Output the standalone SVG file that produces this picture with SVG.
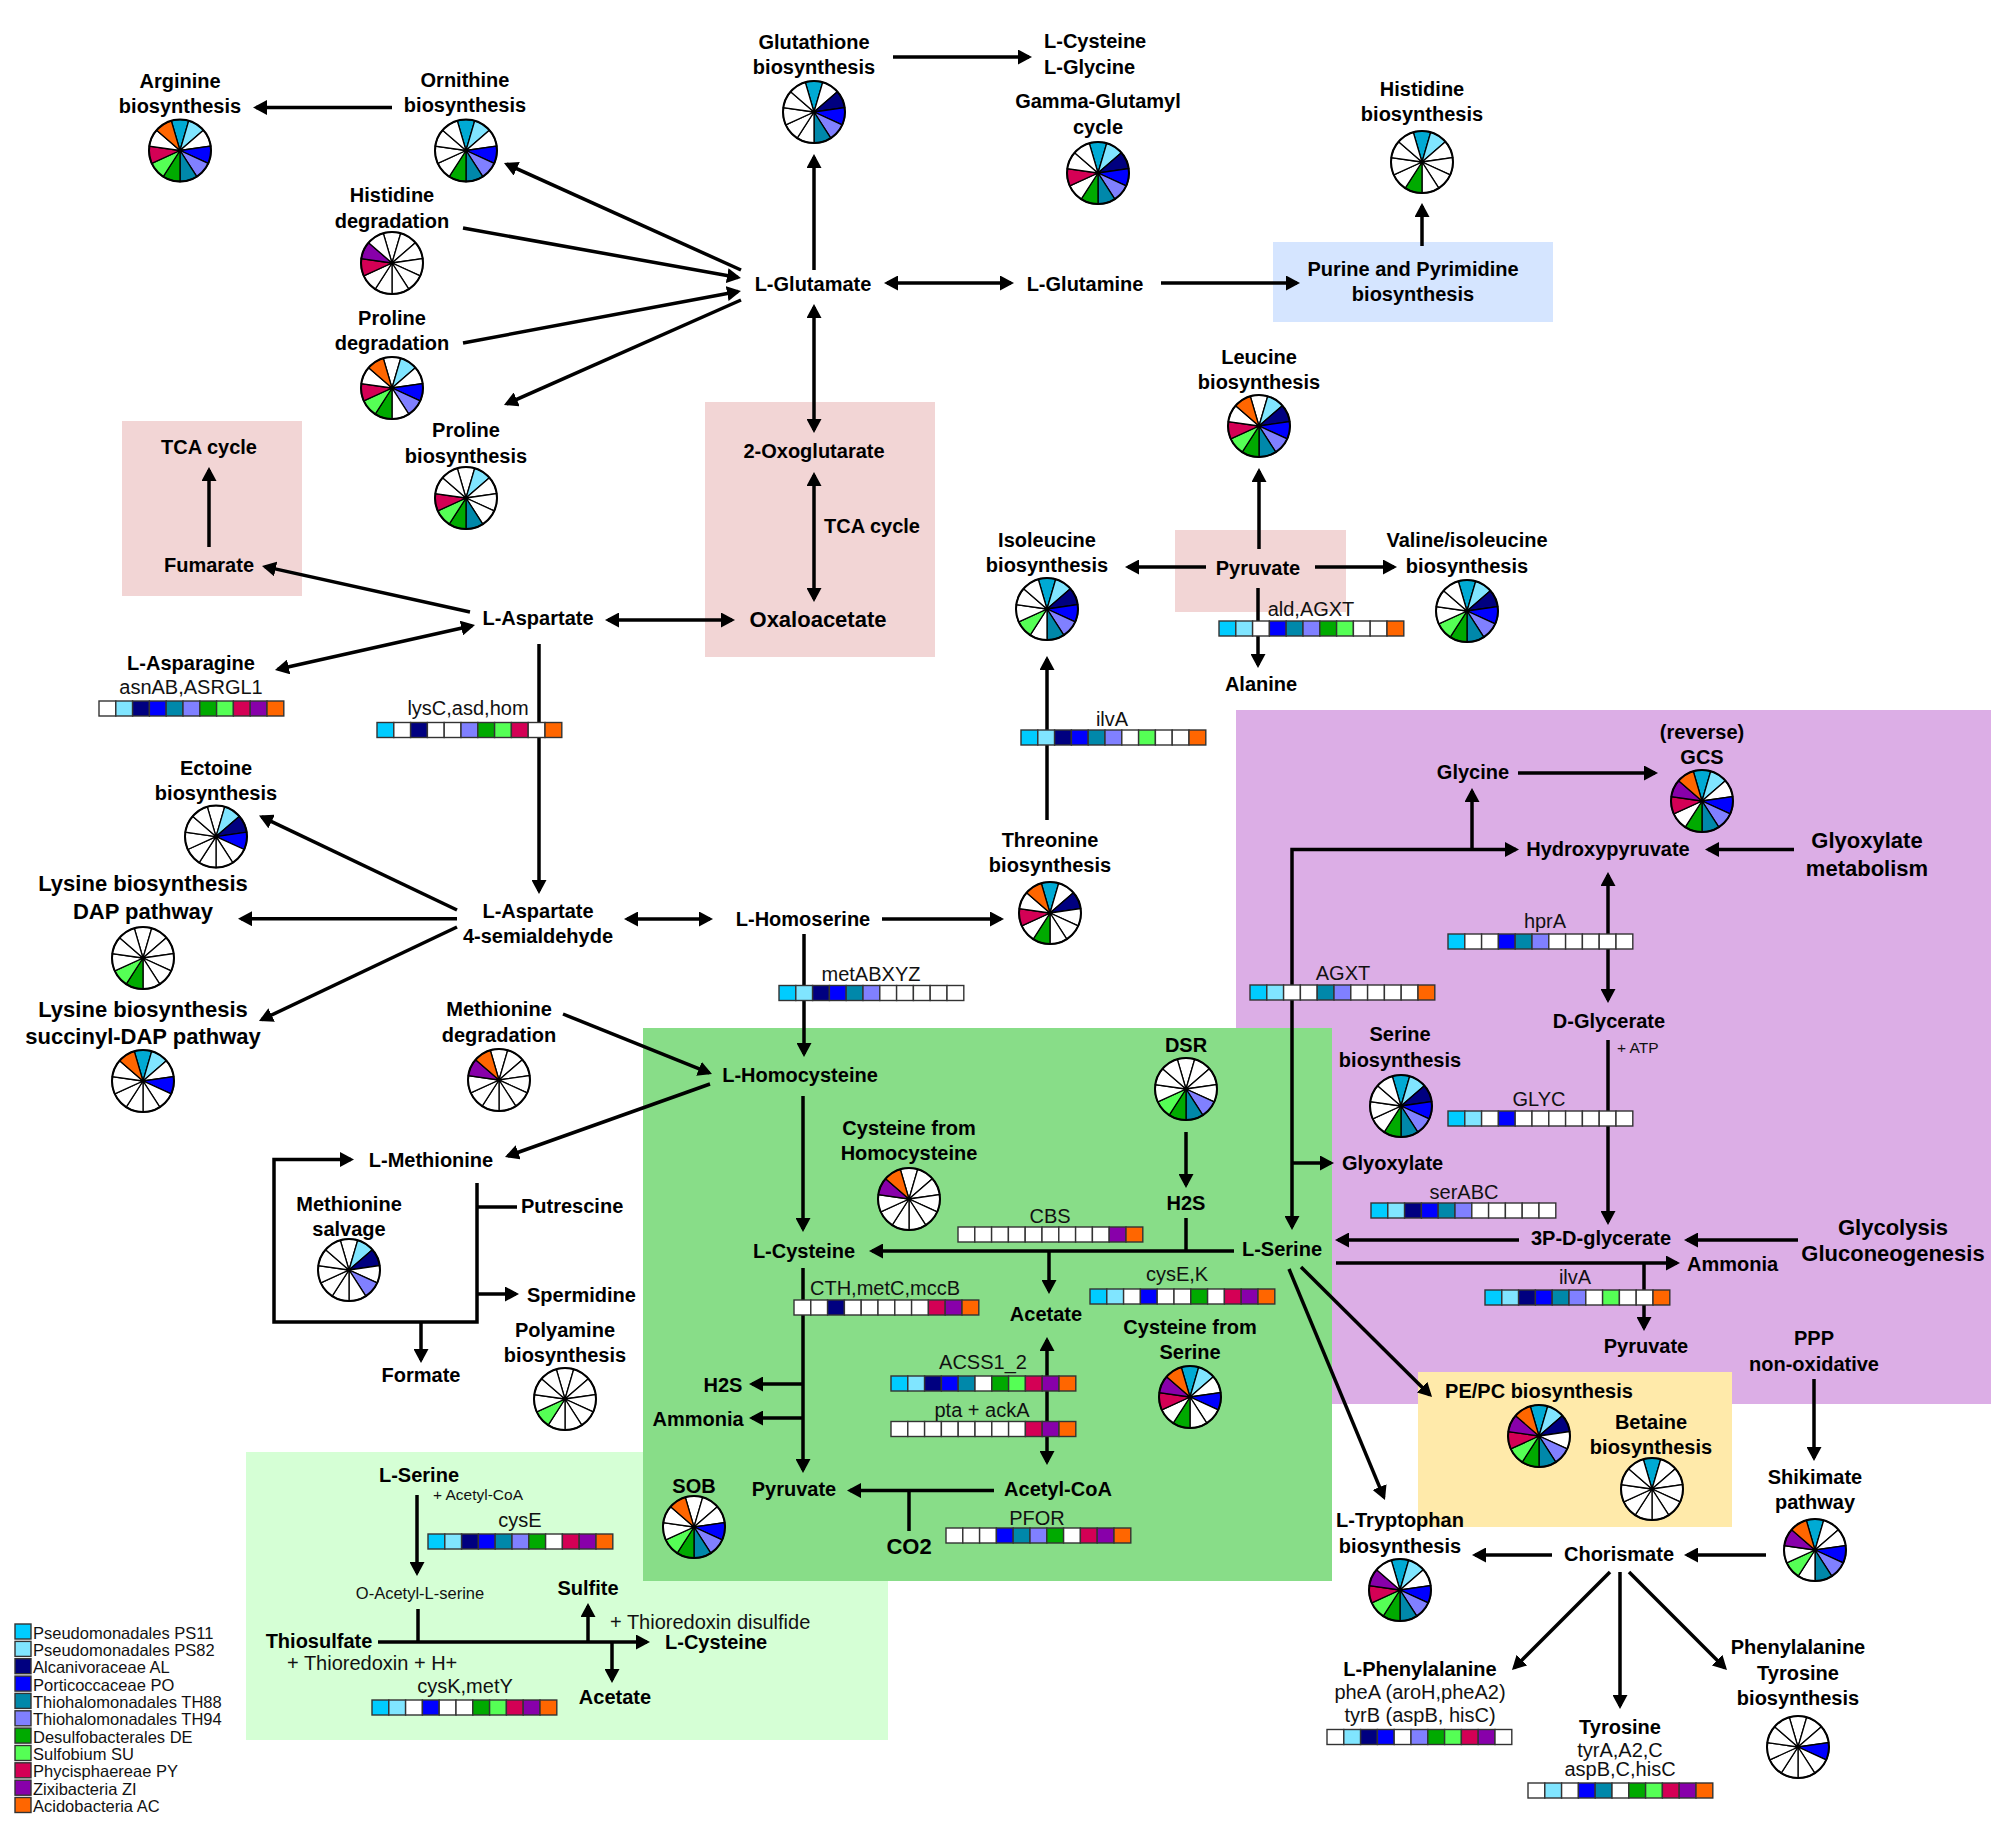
<svg xmlns="http://www.w3.org/2000/svg" xmlns:xlink="http://www.w3.org/1999/xlink" width="2008" height="1839" viewBox="0 0 2008 1839">
<style>
.t{font-family:"Liberation Sans",Arial,sans-serif;font-weight:bold;font-size:20px;text-anchor:middle;fill:#000}
.tl{font-family:"Liberation Sans",Arial,sans-serif;font-weight:bold;font-size:22px;text-anchor:middle;fill:#000}
.ts{font-family:"Liberation Sans",Arial,sans-serif;font-weight:bold;font-size:20px;text-anchor:start;fill:#000}
.g{font-family:"Liberation Sans",Arial,sans-serif;font-size:20px;text-anchor:middle;fill:#111}
.gs{font-family:"Liberation Sans",Arial,sans-serif;font-size:20px;text-anchor:start;fill:#111}
.sm{font-family:"Liberation Sans",Arial,sans-serif;font-size:15.5px;text-anchor:start;fill:#111}
.oa{font-family:"Liberation Sans",Arial,sans-serif;font-size:16.5px;text-anchor:middle;fill:#111}
.lg{font-family:"Liberation Sans",Arial,sans-serif;font-size:16.5px;fill:#111}
.cn path{fill:none;stroke:#000;stroke-width:3.5}
.a{marker-end:url(#ah)}
.d{marker-start:url(#ah);marker-end:url(#ah)}
.pie use{stroke:#000;stroke-width:1.3}
.pie circle{fill:none;stroke:#000;stroke-width:2}
.k0{fill:#00AAD4}.k1{fill:#80E5FF}.k2{fill:#000080}.k3{fill:#0000FF}.k4{fill:#8080FF}.k5{fill:#0088AA}.k6{fill:#00AA00}.k7{fill:#55FF55}.k8{fill:#D40055}.k9{fill:#8800AA}.k10{fill:#FF6600}.kw{fill:#fff}
.st rect{stroke:#333;stroke-width:1.4}
.q1{fill:#00CCFF}.q2{fill:#80E5FF}.q3{fill:#000080}.q4{fill:#0000FF}.q5{fill:#0088AA}.q6{fill:#8080FF}.q7{fill:#00AA00}.q8{fill:#55FF55}.q9{fill:#D40055}.q10{fill:#8800AA}.q11{fill:#FF6600}.qw{fill:#fff}
</style>
<defs>
<marker id="ah" viewBox="0 0 14 15" refX="11" refY="7.5" markerWidth="14" markerHeight="15" markerUnits="userSpaceOnUse" orient="auto-start-reverse"><path d="M0,0L14,7.5L0,15Z" fill="#000"/></marker>
<path id="w0" d="M0,0L-8.7,-29.7A31,31 0 0 1 8.7,-29.7Z"/>
<path id="w1" d="M0,0L8.7,-29.7A31,31 0 0 1 23.4,-20.3Z"/>
<path id="w2" d="M0,0L23.4,-20.3A31,31 0 0 1 30.7,-4.4Z"/>
<path id="w3" d="M0,0L30.7,-4.4A31,31 0 0 1 28.2,12.9Z"/>
<path id="w4" d="M0,0L28.2,12.9A31,31 0 0 1 16.8,26.1Z"/>
<path id="w5" d="M0,0L16.8,26.1A31,31 0 0 1 0,31Z"/>
<path id="w6" d="M0,0L0,31A31,31 0 0 1 -16.8,26.1Z"/>
<path id="w7" d="M0,0L-16.8,26.1A31,31 0 0 1 -28.2,12.9Z"/>
<path id="w8" d="M0,0L-28.2,12.9A31,31 0 0 1 -30.7,-4.4Z"/>
<path id="w9" d="M0,0L-30.7,-4.4A31,31 0 0 1 -23.4,-20.3Z"/>
<path id="w10" d="M0,0L-23.4,-20.3A31,31 0 0 1 -8.7,-29.7Z"/>
</defs>
<rect width="2008" height="1839" fill="#fff"/>
<g id="regions">
<rect x="122" y="421" width="180" height="175" fill="#F2D5D5"/>
<rect x="705" y="402" width="230" height="255" fill="#F2D5D5"/>
<rect x="1175" y="530" width="171" height="82" fill="#F2D5D5"/>
<rect x="1273" y="242" width="280" height="80" fill="#D5E5FF"/>
<rect x="1236" y="710" width="755" height="694" fill="#DCAEE6"/>
<rect x="1418" y="1372" width="314" height="155" fill="#FFEAAA"/>
<rect x="246" y="1452" width="642" height="288" fill="#D5FFD5"/>
<rect x="643" y="1028" width="689" height="553" fill="#88DD88"/>
</g>
<g id="connectors" class="cn">
<path class="a" d="M392,107.5H256"/>
<path class="a" d="M741,270L506.7,164.2"/>
<path class="a" d="M463,228L738,277.5"/>
<path class="a" d="M463,343L738,291.5"/>
<path class="a" d="M741,300L506.7,403.8"/>
<path class="a" d="M814,270V157"/>
<path class="a" d="M893,57H1029"/>
<path class="d" d="M814,307V430"/>
<path class="d" d="M814,475V599"/>
<path class="d" d="M887,283H1011"/>
<path class="a" d="M1161,283H1297"/>
<path class="a" d="M1422,246V206"/>
<path class="a" d="M209,547V470"/>
<path class="a" d="M470,612L264.9,566.6"/>
<path class="d" d="M472.1,625.7L277.9,669.3"/>
<path class="d" d="M608,620H732"/>
<path class="a" d="M539,644V891"/>
<path class="a" d="M457,910L261.7,816.8"/>
<path class="a" d="M457,918.7H241"/>
<path class="a" d="M457,927L261.7,1019.7"/>
<path class="d" d="M627,919H710"/>
<path class="a" d="M882,919H1001"/>
<path class="a" d="M1047,820V659"/>
<path class="a" d="M1259,549V471"/>
<path class="a" d="M1206,567H1128"/>
<path class="a" d="M1315,567H1394"/>
<path class="a" d="M1258,588V665"/>
<path class="a" d="M804,934V1054"/>
<path class="a" d="M563,1014L709.2,1072.9"/>
<path class="a" d="M710,1084L507.8,1156"/>
<path class="a" d="M803,1096V1229"/>
<path class="a" d="M477,1183V1322H274V1159.5H351"/>
<path d="M477,1207H517"/>
<path class="a" d="M477,1294H516"/>
<path class="a" d="M421,1322V1360"/>
<path class="a" d="M1186,1132V1185"/>
<path class="a" d="M1234,1251H872"/>
<path d="M1186,1218V1251"/>
<path class="a" d="M1049,1251V1291"/>
<path class="a" d="M803,1268V1470"/>
<path class="a" d="M803,1384H752"/>
<path class="a" d="M803,1418H752"/>
<path class="d" d="M1047,1340V1462"/>
<path class="a" d="M994,1490.6H850"/>
<path d="M909,1490.6V1531"/>
<path class="d" d="M1292,1227V849.5H1516"/>
<path class="a" d="M1472,849.5V791"/>
<path class="a" d="M1292,1163H1331"/>
<path class="a" d="M1518,773H1655"/>
<path class="a" d="M1794,849.5H1708"/>
<path class="d" d="M1608,875V1000"/>
<path class="a" d="M1608,1040V1222"/>
<path class="a" d="M1519,1240H1338"/>
<path class="a" d="M1798,1240H1687"/>
<path class="a" d="M1336,1263H1677"/>
<path class="a" d="M1644,1263V1328"/>
<path class="a" d="M1301,1267L1429.9,1394.9"/>
<path class="a" d="M1289,1269L1383.8,1497.2"/>
<path class="a" d="M1814,1379V1458"/>
<path class="a" d="M1766,1555H1687"/>
<path class="a" d="M1552,1555H1475"/>
<path class="a" d="M1610,1572L1514.1,1667.9"/>
<path class="a" d="M1620,1572V1706"/>
<path class="a" d="M1629,1572L1724.9,1667.9"/>
<path class="a" d="M417,1495V1573"/>
<path d="M418,1609V1642"/>
<path class="a" d="M378,1642H647"/>
<path class="a" d="M588,1642V1606"/>
<path class="a" d="M612,1642V1680"/>
</g>
<g id="n-arginine"><text class="t" x="180" y="88">Arginine</text><text class="t" x="180" y="113">biosynthesis</text>
<g class="pie" transform="translate(180,150.5)"><use href="#w0" class="k0"/><use href="#w1" class="k1"/><use href="#w2" class="kw"/><use href="#w3" class="k3"/><use href="#w4" class="k4"/><use href="#w5" class="k5"/><use href="#w6" class="k6"/><use href="#w7" class="k7"/><use href="#w8" class="k8"/><use href="#w9" class="kw"/><use href="#w10" class="k10"/><circle r="31"/></g></g>
<g id="n-ornithine"><text class="t" x="465" y="87">Ornithine</text><text class="t" x="465" y="112">biosynthesis</text>
<g class="pie" transform="translate(466,150.5)"><use href="#w0" class="k0"/><use href="#w1" class="k1"/><use href="#w2" class="kw"/><use href="#w3" class="k3"/><use href="#w4" class="k4"/><use href="#w5" class="k5"/><use href="#w6" class="k6"/><use href="#w7" class="kw"/><use href="#w8" class="kw"/><use href="#w9" class="kw"/><use href="#w10" class="kw"/><circle r="31"/></g></g>
<g id="n-histidine-degradation"><text class="t" x="392" y="202">Histidine</text><text class="t" x="392" y="227.5">degradation</text>
<g class="pie" transform="translate(392,263)"><use href="#w0" class="kw"/><use href="#w1" class="kw"/><use href="#w2" class="kw"/><use href="#w3" class="kw"/><use href="#w4" class="kw"/><use href="#w5" class="kw"/><use href="#w6" class="kw"/><use href="#w7" class="kw"/><use href="#w8" class="k8"/><use href="#w9" class="k9"/><use href="#w10" class="kw"/><circle r="31"/></g></g>
<g id="n-proline-degradation"><text class="t" x="392" y="324.5">Proline</text><text class="t" x="392" y="350">degradation</text>
<g class="pie" transform="translate(392,388)"><use href="#w0" class="kw"/><use href="#w1" class="k1"/><use href="#w2" class="kw"/><use href="#w3" class="k3"/><use href="#w4" class="k4"/><use href="#w5" class="kw"/><use href="#w6" class="k6"/><use href="#w7" class="k7"/><use href="#w8" class="k8"/><use href="#w9" class="kw"/><use href="#w10" class="k10"/><circle r="31"/></g></g>
<g id="n-proline-biosynthesis"><text class="t" x="466" y="437">Proline</text><text class="t" x="466" y="462.5">biosynthesis</text>
<g class="pie" transform="translate(466,498)"><use href="#w0" class="kw"/><use href="#w1" class="k1"/><use href="#w2" class="kw"/><use href="#w3" class="kw"/><use href="#w4" class="kw"/><use href="#w5" class="k5"/><use href="#w6" class="k6"/><use href="#w7" class="k7"/><use href="#w8" class="k8"/><use href="#w9" class="kw"/><use href="#w10" class="kw"/><circle r="31"/></g></g>
<g id="n-glutathione"><text class="t" x="814" y="49">Glutathione</text><text class="t" x="814" y="74">biosynthesis</text>
<g class="pie" transform="translate(814,112)"><use href="#w0" class="k0"/><use href="#w1" class="kw"/><use href="#w2" class="k2"/><use href="#w3" class="k3"/><use href="#w4" class="k4"/><use href="#w5" class="k5"/><use href="#w6" class="kw"/><use href="#w7" class="kw"/><use href="#w8" class="kw"/><use href="#w9" class="kw"/><use href="#w10" class="kw"/><circle r="31"/></g></g>
<g id="n-cys-gly"><text class="ts" x="1044" y="47.7">L-Cysteine</text><text class="ts" x="1044" y="73.5">L-Glycine</text></g>
<g id="n-gamma-glutamyl"><text class="t" x="1098" y="108">Gamma-Glutamyl</text><text class="t" x="1098" y="134">cycle</text>
<g class="pie" transform="translate(1098,173)"><use href="#w0" class="k0"/><use href="#w1" class="k1"/><use href="#w2" class="k2"/><use href="#w3" class="k3"/><use href="#w4" class="k4"/><use href="#w5" class="k5"/><use href="#w6" class="k6"/><use href="#w7" class="kw"/><use href="#w8" class="k8"/><use href="#w9" class="kw"/><use href="#w10" class="kw"/><circle r="31"/></g></g>
<g id="n-histidine-biosynthesis"><text class="t" x="1422" y="96">Histidine</text><text class="t" x="1422" y="121">biosynthesis</text>
<g class="pie" transform="translate(1422,162)"><use href="#w0" class="k0"/><use href="#w1" class="k1"/><use href="#w2" class="kw"/><use href="#w3" class="kw"/><use href="#w4" class="kw"/><use href="#w5" class="kw"/><use href="#w6" class="k6"/><use href="#w7" class="kw"/><use href="#w8" class="kw"/><use href="#w9" class="kw"/><use href="#w10" class="kw"/><circle r="31"/></g></g>
<g id="n-glutamate"><text class="t" x="813" y="291">L-Glutamate</text></g>
<g id="n-glutamine"><text class="t" x="1085" y="291">L-Glutamine</text></g>
<g id="n-purine"><text class="t" x="1413" y="276">Purine and Pyrimidine</text><text class="t" x="1413" y="301">biosynthesis</text></g>
<g id="n-oxoglutarate"><text class="t" x="814" y="458">2-Oxoglutarate</text><text class="ts" x="824" y="532.5">TCA cycle</text></g>
<g id="n-oxaloacetate"><text class="tl" x="818" y="627">Oxaloacetate</text></g>
<g id="n-tca"><text class="t" x="209" y="453.5">TCA cycle</text></g>
<g id="n-fumarate"><text class="t" x="209" y="571.5">Fumarate</text></g>
<g id="n-aspartate"><text class="t" x="538" y="625">L-Aspartate</text></g>
<g id="n-leucine"><text class="t" x="1259" y="364">Leucine</text><text class="t" x="1259" y="389">biosynthesis</text>
<g class="pie" transform="translate(1259,426)"><use href="#w0" class="kw"/><use href="#w1" class="k1"/><use href="#w2" class="k2"/><use href="#w3" class="k3"/><use href="#w4" class="k4"/><use href="#w5" class="k5"/><use href="#w6" class="k6"/><use href="#w7" class="k7"/><use href="#w8" class="k8"/><use href="#w9" class="kw"/><use href="#w10" class="k10"/><circle r="31"/></g></g>
<g id="n-isoleucine"><text class="t" x="1047" y="546.5">Isoleucine</text><text class="t" x="1047" y="572">biosynthesis</text>
<g class="pie" transform="translate(1047,609)"><use href="#w0" class="k0"/><use href="#w1" class="k1"/><use href="#w2" class="k2"/><use href="#w3" class="k3"/><use href="#w4" class="k4"/><use href="#w5" class="k5"/><use href="#w6" class="kw"/><use href="#w7" class="k7"/><use href="#w8" class="kw"/><use href="#w9" class="kw"/><use href="#w10" class="kw"/><circle r="31"/></g></g>
<g id="n-pyruvate"><text class="t" x="1258" y="575">Pyruvate</text></g>
<g id="n-valine"><text class="t" x="1467" y="547">Valine/isoleucine</text><text class="t" x="1467" y="573">biosynthesis</text>
<g class="pie" transform="translate(1467,611)"><use href="#w0" class="k0"/><use href="#w1" class="k1"/><use href="#w2" class="k2"/><use href="#w3" class="k3"/><use href="#w4" class="k4"/><use href="#w5" class="k5"/><use href="#w6" class="k6"/><use href="#w7" class="k7"/><use href="#w8" class="kw"/><use href="#w9" class="kw"/><use href="#w10" class="kw"/><circle r="31"/></g></g>
<g id="n-alanine"><text class="t" x="1261" y="691">Alanine</text></g>
<g id="n-asparagine"><text class="t" x="191" y="670">L-Asparagine</text><text class="g" x="191" y="694">asnAB,ASRGL1</text></g>
<g id="n-ectoine"><text class="t" x="216" y="774.5">Ectoine</text><text class="t" x="216" y="800">biosynthesis</text>
<g class="pie" transform="translate(216,836.6)"><use href="#w0" class="kw"/><use href="#w1" class="k1"/><use href="#w2" class="k2"/><use href="#w3" class="k3"/><use href="#w4" class="kw"/><use href="#w5" class="kw"/><use href="#w6" class="kw"/><use href="#w7" class="kw"/><use href="#w8" class="kw"/><use href="#w9" class="kw"/><use href="#w10" class="kw"/><circle r="31"/></g></g>
<g id="n-lysine-dap"><text class="tl" x="143" y="891">Lysine biosynthesis</text><text class="tl" x="143" y="919">DAP pathway</text>
<g class="pie" transform="translate(143,958)"><use href="#w0" class="kw"/><use href="#w1" class="kw"/><use href="#w2" class="kw"/><use href="#w3" class="kw"/><use href="#w4" class="kw"/><use href="#w5" class="kw"/><use href="#w6" class="k6"/><use href="#w7" class="k7"/><use href="#w8" class="kw"/><use href="#w9" class="kw"/><use href="#w10" class="kw"/><circle r="31"/></g></g>
<g id="n-lysine-succinyl"><text class="tl" x="143" y="1016.5">Lysine biosynthesis</text><text class="tl" x="143" y="1044">succinyl-DAP pathway</text>
<g class="pie" transform="translate(143,1081)"><use href="#w0" class="k0"/><use href="#w1" class="k1"/><use href="#w2" class="kw"/><use href="#w3" class="k3"/><use href="#w4" class="kw"/><use href="#w5" class="kw"/><use href="#w6" class="kw"/><use href="#w7" class="kw"/><use href="#w8" class="kw"/><use href="#w9" class="kw"/><use href="#w10" class="k10"/><circle r="31"/></g></g>
<g id="n-semialdehyde"><text class="t" x="538" y="918">L-Aspartate</text><text class="t" x="538" y="943">4-semialdehyde</text></g>
<g id="n-homoserine"><text class="t" x="803" y="926">L-Homoserine</text></g>
<g id="n-threonine"><text class="t" x="1050" y="847">Threonine</text><text class="t" x="1050" y="872">biosynthesis</text>
<g class="pie" transform="translate(1050,913)"><use href="#w0" class="k0"/><use href="#w1" class="kw"/><use href="#w2" class="k2"/><use href="#w3" class="kw"/><use href="#w4" class="kw"/><use href="#w5" class="kw"/><use href="#w6" class="k6"/><use href="#w7" class="kw"/><use href="#w8" class="k8"/><use href="#w9" class="kw"/><use href="#w10" class="k10"/><circle r="31"/></g></g>
<g id="n-gcs"><text class="t" x="1702" y="739">(reverse)</text><text class="t" x="1702" y="763.5">GCS</text>
<g class="pie" transform="translate(1702,801)"><use href="#w0" class="k0"/><use href="#w1" class="k1"/><use href="#w2" class="kw"/><use href="#w3" class="k3"/><use href="#w4" class="k4"/><use href="#w5" class="k5"/><use href="#w6" class="k6"/><use href="#w7" class="kw"/><use href="#w8" class="k8"/><use href="#w9" class="k9"/><use href="#w10" class="k10"/><circle r="31"/></g></g>
<g id="n-glycine"><text class="t" x="1473" y="779">Glycine</text></g>
<g id="n-hydroxypyruvate"><text class="t" x="1608" y="856">Hydroxypyruvate</text></g>
<g id="n-glyoxylate-metabolism"><text class="tl" x="1867" y="847.5">Glyoxylate</text><text class="tl" x="1867" y="876">metabolism</text></g>
<g id="n-d-glycerate"><text class="t" x="1609" y="1028">D-Glycerate</text><text class="sm" x="1617" y="1053">+ ATP</text></g>
<g id="n-methionine-degradation"><text class="t" x="499" y="1016">Methionine</text><text class="t" x="499" y="1042">degradation</text>
<g class="pie" transform="translate(499,1080)"><use href="#w0" class="kw"/><use href="#w1" class="kw"/><use href="#w2" class="kw"/><use href="#w3" class="kw"/><use href="#w4" class="kw"/><use href="#w5" class="kw"/><use href="#w6" class="kw"/><use href="#w7" class="kw"/><use href="#w8" class="kw"/><use href="#w9" class="k9"/><use href="#w10" class="k10"/><circle r="31"/></g></g>
<g id="n-homocysteine"><text class="t" x="800" y="1082">L-Homocysteine</text></g>
<g id="n-cys-from-hcy"><text class="t" x="909" y="1135">Cysteine from</text><text class="t" x="909" y="1160">Homocysteine</text>
<g class="pie" transform="translate(909,1199)"><use href="#w0" class="kw"/><use href="#w1" class="kw"/><use href="#w2" class="kw"/><use href="#w3" class="kw"/><use href="#w4" class="kw"/><use href="#w5" class="kw"/><use href="#w6" class="kw"/><use href="#w7" class="kw"/><use href="#w8" class="kw"/><use href="#w9" class="k9"/><use href="#w10" class="k10"/><circle r="31"/></g></g>
<g id="n-dsr"><text class="t" x="1186" y="1052">DSR</text>
<g class="pie" transform="translate(1186,1089)"><use href="#w0" class="kw"/><use href="#w1" class="kw"/><use href="#w2" class="kw"/><use href="#w3" class="kw"/><use href="#w4" class="k4"/><use href="#w5" class="k5"/><use href="#w6" class="k6"/><use href="#w7" class="k7"/><use href="#w8" class="kw"/><use href="#w9" class="kw"/><use href="#w10" class="kw"/><circle r="31"/></g></g>
<g id="n-serine-biosynthesis"><text class="t" x="1400" y="1041">Serine</text><text class="t" x="1400" y="1066.5">biosynthesis</text>
<g class="pie" transform="translate(1401,1106)"><use href="#w0" class="k0"/><use href="#w1" class="k1"/><use href="#w2" class="k2"/><use href="#w3" class="k3"/><use href="#w4" class="k4"/><use href="#w5" class="k5"/><use href="#w6" class="k6"/><use href="#w7" class="kw"/><use href="#w8" class="kw"/><use href="#w9" class="kw"/><use href="#w10" class="kw"/><circle r="31"/></g></g>
<g id="n-h2s-dsr"><text class="t" x="1186" y="1210">H2S</text></g>
<g id="n-glyoxylate"><text class="ts" x="1342" y="1170">Glyoxylate</text></g>
<g id="n-methionine"><text class="t" x="431" y="1167">L-Methionine</text></g>
<g id="n-methionine-salvage"><text class="t" x="349" y="1211">Methionine</text><text class="t" x="349" y="1236">salvage</text>
<g class="pie" transform="translate(349,1270)"><use href="#w0" class="kw"/><use href="#w1" class="k1"/><use href="#w2" class="k2"/><use href="#w3" class="kw"/><use href="#w4" class="k4"/><use href="#w5" class="kw"/><use href="#w6" class="kw"/><use href="#w7" class="kw"/><use href="#w8" class="kw"/><use href="#w9" class="kw"/><use href="#w10" class="kw"/><circle r="31"/></g></g>
<g id="n-putrescine"><text class="ts" x="521" y="1213">Putrescine</text></g>
<g id="n-spermidine"><text class="ts" x="527" y="1301.5">Spermidine</text></g>
<g id="n-formate"><text class="t" x="421" y="1382">Formate</text></g>
<g id="n-polyamine"><text class="t" x="565" y="1337">Polyamine</text><text class="t" x="565" y="1362">biosynthesis</text>
<g class="pie" transform="translate(565,1399)"><use href="#w0" class="kw"/><use href="#w1" class="kw"/><use href="#w2" class="kw"/><use href="#w3" class="kw"/><use href="#w4" class="kw"/><use href="#w5" class="kw"/><use href="#w6" class="kw"/><use href="#w7" class="k7"/><use href="#w8" class="kw"/><use href="#w9" class="kw"/><use href="#w10" class="kw"/><circle r="31"/></g></g>
<g id="n-cysteine"><text class="t" x="804" y="1258">L-Cysteine</text></g>
<g id="n-acetate"><text class="t" x="1046" y="1320.6">Acetate</text></g>
<g id="n-cys-from-ser"><text class="t" x="1190" y="1333.5">Cysteine from</text><text class="t" x="1190" y="1359">Serine</text>
<g class="pie" transform="translate(1190,1397)"><use href="#w0" class="k0"/><use href="#w1" class="k1"/><use href="#w2" class="kw"/><use href="#w3" class="k3"/><use href="#w4" class="kw"/><use href="#w5" class="kw"/><use href="#w6" class="k6"/><use href="#w7" class="kw"/><use href="#w8" class="k8"/><use href="#w9" class="k9"/><use href="#w10" class="k10"/><circle r="31"/></g></g>
<g id="n-serine"><text class="t" x="1282" y="1256">L-Serine</text></g>
<g id="n-3pdg"><text class="t" x="1601" y="1245">3P-D-glycerate</text></g>
<g id="n-glycolysis"><text class="tl" x="1893" y="1235">Glycolysis</text><text class="tl" x="1893" y="1261">Gluconeogenesis</text></g>
<g id="n-ammonia-ser"><text class="ts" x="1687" y="1271">Ammonia</text></g>
<g id="n-pyruvate-ser"><text class="t" x="1646" y="1353">Pyruvate</text></g>
<g id="n-ppp"><text class="t" x="1814" y="1345">PPP</text><text class="t" x="1814" y="1371">non-oxidative</text></g>
<g id="n-h2s"><text class="t" x="723" y="1392">H2S</text></g>
<g id="n-ammonia"><text class="t" x="698" y="1426">Ammonia</text></g>
<g id="n-sob"><text class="t" x="694" y="1493">SOB</text>
<g class="pie" transform="translate(694,1527)"><use href="#w0" class="kw"/><use href="#w1" class="kw"/><use href="#w2" class="kw"/><use href="#w3" class="k3"/><use href="#w4" class="k4"/><use href="#w5" class="k5"/><use href="#w6" class="k6"/><use href="#w7" class="k7"/><use href="#w8" class="kw"/><use href="#w9" class="kw"/><use href="#w10" class="k10"/><circle r="31"/></g></g>
<g id="n-pyruvate-cys"><text class="t" x="794" y="1496">Pyruvate</text></g>
<g id="n-acetyl-coa"><text class="t" x="1058" y="1496">Acetyl-CoA</text></g>
<g id="n-co2"><text class="tl" x="909" y="1554">CO2</text></g>
<g id="n-pepc"><text class="t" x="1539" y="1398">PE/PC biosynthesis</text>
<g class="pie" transform="translate(1539,1436)"><use href="#w0" class="k0"/><use href="#w1" class="k1"/><use href="#w2" class="k2"/><use href="#w3" class="kw"/><use href="#w4" class="k4"/><use href="#w5" class="k5"/><use href="#w6" class="k6"/><use href="#w7" class="k7"/><use href="#w8" class="k8"/><use href="#w9" class="k9"/><use href="#w10" class="k10"/><circle r="31"/></g></g>
<g id="n-betaine"><text class="t" x="1651" y="1428.5">Betaine</text><text class="t" x="1651" y="1454">biosynthesis</text>
<g class="pie" transform="translate(1652,1489)"><use href="#w0" class="k0"/><use href="#w1" class="kw"/><use href="#w2" class="kw"/><use href="#w3" class="kw"/><use href="#w4" class="kw"/><use href="#w5" class="kw"/><use href="#w6" class="kw"/><use href="#w7" class="kw"/><use href="#w8" class="kw"/><use href="#w9" class="kw"/><use href="#w10" class="kw"/><circle r="31"/></g></g>
<g id="n-shikimate"><text class="t" x="1815" y="1484">Shikimate</text><text class="t" x="1815" y="1509">pathway</text>
<g class="pie" transform="translate(1815,1550)"><use href="#w0" class="k0"/><use href="#w1" class="kw"/><use href="#w2" class="kw"/><use href="#w3" class="k3"/><use href="#w4" class="k4"/><use href="#w5" class="k5"/><use href="#w6" class="kw"/><use href="#w7" class="k7"/><use href="#w8" class="kw"/><use href="#w9" class="k9"/><use href="#w10" class="k10"/><circle r="31"/></g></g>
<g id="n-tryptophan"><text class="t" x="1400" y="1527">L-Tryptophan</text><text class="t" x="1400" y="1552.5">biosynthesis</text>
<g class="pie" transform="translate(1400,1590)"><use href="#w0" class="k0"/><use href="#w1" class="k1"/><use href="#w2" class="kw"/><use href="#w3" class="k3"/><use href="#w4" class="k4"/><use href="#w5" class="k5"/><use href="#w6" class="k6"/><use href="#w7" class="k7"/><use href="#w8" class="k8"/><use href="#w9" class="k9"/><use href="#w10" class="kw"/><circle r="31"/></g></g>
<g id="n-chorismate"><text class="t" x="1619" y="1561">Chorismate</text></g>
<g id="n-phenylalanine"><text class="t" x="1420" y="1675.6">L-Phenylalanine</text><text class="g" x="1420" y="1699">pheA (aroH,pheA2)</text><text class="g" x="1420" y="1722">tyrB (aspB, hisC)</text></g>
<g id="n-tyrosine"><text class="t" x="1620" y="1734">Tyrosine</text><text class="g" x="1620" y="1757">tyrA,A2,C</text><text class="g" x="1620" y="1776">aspB,C,hisC</text></g>
<g id="n-phetyr"><text class="t" x="1798" y="1654">Phenylalanine</text><text class="t" x="1798" y="1679.5">Tyrosine</text><text class="t" x="1798" y="1705">biosynthesis</text>
<g class="pie" transform="translate(1798,1747)"><use href="#w0" class="kw"/><use href="#w1" class="kw"/><use href="#w2" class="kw"/><use href="#w3" class="k3"/><use href="#w4" class="kw"/><use href="#w5" class="kw"/><use href="#w6" class="kw"/><use href="#w7" class="kw"/><use href="#w8" class="kw"/><use href="#w9" class="kw"/><use href="#w10" class="kw"/><circle r="31"/></g></g>
<g id="n-serine-b"><text class="t" x="419" y="1482">L-Serine</text><text class="sm" x="433" y="1500">+ Acetyl-CoA</text></g>
<g id="n-oacetylserine"><text class="oa" x="420" y="1599">O-Acetyl-L-serine</text></g>
<g id="n-thiosulfate"><text class="t" x="319" y="1648">Thiosulfate</text><text class="gs" x="287" y="1670">+ Thioredoxin + H+</text></g>
<g id="n-sulfite"><text class="t" x="588" y="1595">Sulfite</text></g>
<g id="n-cysteine-b"><text class="gs" x="610" y="1629">+ Thioredoxin disulfide</text><text class="ts" x="665" y="1649">L-Cysteine</text></g>
<g id="n-acetate-b"><text class="t" x="615" y="1704">Acetate</text></g>
<g id="gene-labels">
<text class="g" x="468" y="715">lysC,asd,hom</text>
<text class="g" x="871" y="980.5">metABXYZ</text>
<text class="g" x="1112" y="726">ilvA</text>
<text class="g" x="1311" y="616">ald,AGXT</text>
<text class="g" x="1343" y="980">AGXT</text>
<text class="g" x="1545" y="928">hprA</text>
<text class="g" x="1539" y="1106">GLYC</text>
<text class="g" x="1464" y="1199">serABC</text>
<text class="g" x="1050" y="1223">CBS</text>
<text class="g" x="885" y="1294.5">CTH,metC,mccB</text>
<text class="g" x="1177" y="1281">cysE,K</text>
<text class="g" x="1575" y="1284">ilvA</text>
<text class="g" x="983" y="1369">ACSS1_2</text>
<text class="g" x="982" y="1417">pta + ackA</text>
<text class="g" x="1037" y="1525">PFOR</text>
<text class="g" x="520" y="1527">cysE</text>
<text class="g" x="465" y="1693">cysK,metY</text>
</g>
<g id="s-asnAB" class="st" transform="translate(99,701)"><rect x="0" width="16.8" height="15" class="qw"/><rect x="16.8" width="16.8" height="15" class="q2"/><rect x="33.6" width="16.8" height="15" class="q3"/><rect x="50.4" width="16.8" height="15" class="q4"/><rect x="67.2" width="16.8" height="15" class="q5"/><rect x="84" width="16.8" height="15" class="q6"/><rect x="100.8" width="16.8" height="15" class="q7"/><rect x="117.6" width="16.8" height="15" class="q8"/><rect x="134.4" width="16.8" height="15" class="q9"/><rect x="151.2" width="16.8" height="15" class="q10"/><rect x="168" width="16.8" height="15" class="q11"/></g>
<g id="s-lysC" class="st" transform="translate(377,722.5)"><rect x="0" width="16.8" height="15" class="q1"/><rect x="16.8" width="16.8" height="15" class="qw"/><rect x="33.6" width="16.8" height="15" class="q3"/><rect x="50.4" width="16.8" height="15" class="qw"/><rect x="67.2" width="16.8" height="15" class="qw"/><rect x="84" width="16.8" height="15" class="q6"/><rect x="100.8" width="16.8" height="15" class="q7"/><rect x="117.6" width="16.8" height="15" class="q8"/><rect x="134.4" width="16.8" height="15" class="q9"/><rect x="151.2" width="16.8" height="15" class="qw"/><rect x="168" width="16.8" height="15" class="q11"/></g>
<g id="s-metABXYZ" class="st" transform="translate(779,985.5)"><rect x="0" width="16.8" height="15" class="q1"/><rect x="16.8" width="16.8" height="15" class="q2"/><rect x="33.6" width="16.8" height="15" class="q3"/><rect x="50.4" width="16.8" height="15" class="q4"/><rect x="67.2" width="16.8" height="15" class="q5"/><rect x="84" width="16.8" height="15" class="q6"/><rect x="100.8" width="16.8" height="15" class="qw"/><rect x="117.6" width="16.8" height="15" class="qw"/><rect x="134.4" width="16.8" height="15" class="qw"/><rect x="151.2" width="16.8" height="15" class="qw"/><rect x="168" width="16.8" height="15" class="qw"/></g>
<g id="s-ilvA-thr" class="st" transform="translate(1021,730)"><rect x="0" width="16.8" height="15" class="q1"/><rect x="16.8" width="16.8" height="15" class="q2"/><rect x="33.6" width="16.8" height="15" class="q3"/><rect x="50.4" width="16.8" height="15" class="q4"/><rect x="67.2" width="16.8" height="15" class="q5"/><rect x="84" width="16.8" height="15" class="q6"/><rect x="100.8" width="16.8" height="15" class="qw"/><rect x="117.6" width="16.8" height="15" class="q8"/><rect x="134.4" width="16.8" height="15" class="qw"/><rect x="151.2" width="16.8" height="15" class="qw"/><rect x="168" width="16.8" height="15" class="q11"/></g>
<g id="s-aldAGXT" class="st" transform="translate(1219,621)"><rect x="0" width="16.8" height="15" class="q1"/><rect x="16.8" width="16.8" height="15" class="q2"/><rect x="33.6" width="16.8" height="15" class="qw"/><rect x="50.4" width="16.8" height="15" class="q4"/><rect x="67.2" width="16.8" height="15" class="q5"/><rect x="84" width="16.8" height="15" class="q6"/><rect x="100.8" width="16.8" height="15" class="q7"/><rect x="117.6" width="16.8" height="15" class="q8"/><rect x="134.4" width="16.8" height="15" class="qw"/><rect x="151.2" width="16.8" height="15" class="qw"/><rect x="168" width="16.8" height="15" class="q11"/></g>
<g id="s-AGXT" class="st" transform="translate(1250,985)"><rect x="0" width="16.8" height="15" class="q1"/><rect x="16.8" width="16.8" height="15" class="q2"/><rect x="33.6" width="16.8" height="15" class="qw"/><rect x="50.4" width="16.8" height="15" class="qw"/><rect x="67.2" width="16.8" height="15" class="q5"/><rect x="84" width="16.8" height="15" class="q6"/><rect x="100.8" width="16.8" height="15" class="qw"/><rect x="117.6" width="16.8" height="15" class="qw"/><rect x="134.4" width="16.8" height="15" class="qw"/><rect x="151.2" width="16.8" height="15" class="qw"/><rect x="168" width="16.8" height="15" class="q11"/></g>
<g id="s-hprA" class="st" transform="translate(1448,934)"><rect x="0" width="16.8" height="15" class="q1"/><rect x="16.8" width="16.8" height="15" class="qw"/><rect x="33.6" width="16.8" height="15" class="qw"/><rect x="50.4" width="16.8" height="15" class="q4"/><rect x="67.2" width="16.8" height="15" class="q5"/><rect x="84" width="16.8" height="15" class="q6"/><rect x="100.8" width="16.8" height="15" class="qw"/><rect x="117.6" width="16.8" height="15" class="qw"/><rect x="134.4" width="16.8" height="15" class="qw"/><rect x="151.2" width="16.8" height="15" class="qw"/><rect x="168" width="16.8" height="15" class="qw"/></g>
<g id="s-GLYC" class="st" transform="translate(1448,1111)"><rect x="0" width="16.8" height="15" class="q1"/><rect x="16.8" width="16.8" height="15" class="q2"/><rect x="33.6" width="16.8" height="15" class="qw"/><rect x="50.4" width="16.8" height="15" class="q4"/><rect x="67.2" width="16.8" height="15" class="qw"/><rect x="84" width="16.8" height="15" class="qw"/><rect x="100.8" width="16.8" height="15" class="qw"/><rect x="117.6" width="16.8" height="15" class="qw"/><rect x="134.4" width="16.8" height="15" class="qw"/><rect x="151.2" width="16.8" height="15" class="qw"/><rect x="168" width="16.8" height="15" class="qw"/></g>
<g id="s-serABC" class="st" transform="translate(1371,1203)"><rect x="0" width="16.8" height="15" class="q1"/><rect x="16.8" width="16.8" height="15" class="q2"/><rect x="33.6" width="16.8" height="15" class="q3"/><rect x="50.4" width="16.8" height="15" class="q4"/><rect x="67.2" width="16.8" height="15" class="q5"/><rect x="84" width="16.8" height="15" class="q6"/><rect x="100.8" width="16.8" height="15" class="qw"/><rect x="117.6" width="16.8" height="15" class="qw"/><rect x="134.4" width="16.8" height="15" class="qw"/><rect x="151.2" width="16.8" height="15" class="qw"/><rect x="168" width="16.8" height="15" class="qw"/></g>
<g id="s-CBS" class="st" transform="translate(958,1227)"><rect x="0" width="16.8" height="15" class="qw"/><rect x="16.8" width="16.8" height="15" class="qw"/><rect x="33.6" width="16.8" height="15" class="qw"/><rect x="50.4" width="16.8" height="15" class="qw"/><rect x="67.2" width="16.8" height="15" class="qw"/><rect x="84" width="16.8" height="15" class="qw"/><rect x="100.8" width="16.8" height="15" class="qw"/><rect x="117.6" width="16.8" height="15" class="qw"/><rect x="134.4" width="16.8" height="15" class="qw"/><rect x="151.2" width="16.8" height="15" class="q10"/><rect x="168" width="16.8" height="15" class="q11"/></g>
<g id="s-CTH" class="st" transform="translate(794,1300)"><rect x="0" width="16.8" height="15" class="qw"/><rect x="16.8" width="16.8" height="15" class="qw"/><rect x="33.6" width="16.8" height="15" class="q3"/><rect x="50.4" width="16.8" height="15" class="qw"/><rect x="67.2" width="16.8" height="15" class="qw"/><rect x="84" width="16.8" height="15" class="qw"/><rect x="100.8" width="16.8" height="15" class="qw"/><rect x="117.6" width="16.8" height="15" class="qw"/><rect x="134.4" width="16.8" height="15" class="q9"/><rect x="151.2" width="16.8" height="15" class="q10"/><rect x="168" width="16.8" height="15" class="q11"/></g>
<g id="s-cysEK" class="st" transform="translate(1090,1289)"><rect x="0" width="16.8" height="15" class="q1"/><rect x="16.8" width="16.8" height="15" class="q2"/><rect x="33.6" width="16.8" height="15" class="qw"/><rect x="50.4" width="16.8" height="15" class="q4"/><rect x="67.2" width="16.8" height="15" class="qw"/><rect x="84" width="16.8" height="15" class="qw"/><rect x="100.8" width="16.8" height="15" class="q7"/><rect x="117.6" width="16.8" height="15" class="qw"/><rect x="134.4" width="16.8" height="15" class="q9"/><rect x="151.2" width="16.8" height="15" class="q10"/><rect x="168" width="16.8" height="15" class="q11"/></g>
<g id="s-ilvA-ser" class="st" transform="translate(1485,1290)"><rect x="0" width="16.8" height="15" class="q1"/><rect x="16.8" width="16.8" height="15" class="q2"/><rect x="33.6" width="16.8" height="15" class="q3"/><rect x="50.4" width="16.8" height="15" class="q4"/><rect x="67.2" width="16.8" height="15" class="q5"/><rect x="84" width="16.8" height="15" class="q6"/><rect x="100.8" width="16.8" height="15" class="qw"/><rect x="117.6" width="16.8" height="15" class="q8"/><rect x="134.4" width="16.8" height="15" class="qw"/><rect x="151.2" width="16.8" height="15" class="qw"/><rect x="168" width="16.8" height="15" class="q11"/></g>
<g id="s-ACSS" class="st" transform="translate(891,1376)"><rect x="0" width="16.8" height="15" class="q1"/><rect x="16.8" width="16.8" height="15" class="q2"/><rect x="33.6" width="16.8" height="15" class="q3"/><rect x="50.4" width="16.8" height="15" class="q4"/><rect x="67.2" width="16.8" height="15" class="q5"/><rect x="84" width="16.8" height="15" class="qw"/><rect x="100.8" width="16.8" height="15" class="q7"/><rect x="117.6" width="16.8" height="15" class="q8"/><rect x="134.4" width="16.8" height="15" class="q9"/><rect x="151.2" width="16.8" height="15" class="q10"/><rect x="168" width="16.8" height="15" class="q11"/></g>
<g id="s-pta" class="st" transform="translate(891,1421.5)"><rect x="0" width="16.8" height="15" class="qw"/><rect x="16.8" width="16.8" height="15" class="qw"/><rect x="33.6" width="16.8" height="15" class="qw"/><rect x="50.4" width="16.8" height="15" class="qw"/><rect x="67.2" width="16.8" height="15" class="qw"/><rect x="84" width="16.8" height="15" class="qw"/><rect x="100.8" width="16.8" height="15" class="qw"/><rect x="117.6" width="16.8" height="15" class="qw"/><rect x="134.4" width="16.8" height="15" class="q9"/><rect x="151.2" width="16.8" height="15" class="q10"/><rect x="168" width="16.8" height="15" class="q11"/></g>
<g id="s-PFOR" class="st" transform="translate(946,1528)"><rect x="0" width="16.8" height="15" class="qw"/><rect x="16.8" width="16.8" height="15" class="qw"/><rect x="33.6" width="16.8" height="15" class="qw"/><rect x="50.4" width="16.8" height="15" class="q4"/><rect x="67.2" width="16.8" height="15" class="q5"/><rect x="84" width="16.8" height="15" class="q6"/><rect x="100.8" width="16.8" height="15" class="q7"/><rect x="117.6" width="16.8" height="15" class="qw"/><rect x="134.4" width="16.8" height="15" class="q9"/><rect x="151.2" width="16.8" height="15" class="q10"/><rect x="168" width="16.8" height="15" class="q11"/></g>
<g id="s-cysE" class="st" transform="translate(428,1534)"><rect x="0" width="16.8" height="15" class="q1"/><rect x="16.8" width="16.8" height="15" class="q2"/><rect x="33.6" width="16.8" height="15" class="q3"/><rect x="50.4" width="16.8" height="15" class="q4"/><rect x="67.2" width="16.8" height="15" class="q5"/><rect x="84" width="16.8" height="15" class="q6"/><rect x="100.8" width="16.8" height="15" class="q7"/><rect x="117.6" width="16.8" height="15" class="qw"/><rect x="134.4" width="16.8" height="15" class="q9"/><rect x="151.2" width="16.8" height="15" class="q10"/><rect x="168" width="16.8" height="15" class="q11"/></g>
<g id="s-cysK" class="st" transform="translate(372,1700)"><rect x="0" width="16.8" height="15" class="q1"/><rect x="16.8" width="16.8" height="15" class="q2"/><rect x="33.6" width="16.8" height="15" class="qw"/><rect x="50.4" width="16.8" height="15" class="q4"/><rect x="67.2" width="16.8" height="15" class="qw"/><rect x="84" width="16.8" height="15" class="qw"/><rect x="100.8" width="16.8" height="15" class="q7"/><rect x="117.6" width="16.8" height="15" class="q8"/><rect x="134.4" width="16.8" height="15" class="q9"/><rect x="151.2" width="16.8" height="15" class="q10"/><rect x="168" width="16.8" height="15" class="q11"/></g>
<g id="s-phe" class="st" transform="translate(1327,1729.5)"><rect x="0" width="16.8" height="15" class="qw"/><rect x="16.8" width="16.8" height="15" class="q2"/><rect x="33.6" width="16.8" height="15" class="q3"/><rect x="50.4" width="16.8" height="15" class="q4"/><rect x="67.2" width="16.8" height="15" class="qw"/><rect x="84" width="16.8" height="15" class="q6"/><rect x="100.8" width="16.8" height="15" class="q7"/><rect x="117.6" width="16.8" height="15" class="q8"/><rect x="134.4" width="16.8" height="15" class="q9"/><rect x="151.2" width="16.8" height="15" class="q10"/><rect x="168" width="16.8" height="15" class="qw"/></g>
<g id="s-tyr" class="st" transform="translate(1528,1783)"><rect x="0" width="16.8" height="15" class="qw"/><rect x="16.8" width="16.8" height="15" class="q2"/><rect x="33.6" width="16.8" height="15" class="qw"/><rect x="50.4" width="16.8" height="15" class="q4"/><rect x="67.2" width="16.8" height="15" class="q5"/><rect x="84" width="16.8" height="15" class="qw"/><rect x="100.8" width="16.8" height="15" class="q7"/><rect x="117.6" width="16.8" height="15" class="q8"/><rect x="134.4" width="16.8" height="15" class="q9"/><rect x="151.2" width="16.8" height="15" class="q10"/><rect x="168" width="16.8" height="15" class="q11"/></g>
<g id="legend" class="st">
<rect x="15" y="1624" width="16" height="15" class="q1"/><text class="lg" x="33" y="1638.5">Pseudomonadales PS11</text>
<rect x="15" y="1641.4" width="16" height="15" class="q2"/><text class="lg" x="33" y="1655.8">Pseudomonadales PS82</text>
<rect x="15" y="1658.7" width="16" height="15" class="q3"/><text class="lg" x="33" y="1673.2">Alcanivoraceae AL</text>
<rect x="15" y="1676.1" width="16" height="15" class="q4"/><text class="lg" x="33" y="1690.5">Porticoccaceae PO</text>
<rect x="15" y="1693.4" width="16" height="15" class="q5"/><text class="lg" x="33" y="1707.9">Thiohalomonadales TH88</text>
<rect x="15" y="1710.8" width="16" height="15" class="q6"/><text class="lg" x="33" y="1725.2">Thiohalomonadales TH94</text>
<rect x="15" y="1728.1" width="16" height="15" class="q7"/><text class="lg" x="33" y="1742.6">Desulfobacterales DE</text>
<rect x="15" y="1745.5" width="16" height="15" class="q8"/><text class="lg" x="33" y="1759.9">Sulfobium SU</text>
<rect x="15" y="1762.8" width="16" height="15" class="q9"/><text class="lg" x="33" y="1777.3">Phycisphaereae PY</text>
<rect x="15" y="1780.2" width="16" height="15" class="q10"/><text class="lg" x="33" y="1794.6">Zixibacteria ZI</text>
<rect x="15" y="1797.5" width="16" height="15" class="q11"/><text class="lg" x="33" y="1812">Acidobacteria AC</text>
</g>
</svg>
